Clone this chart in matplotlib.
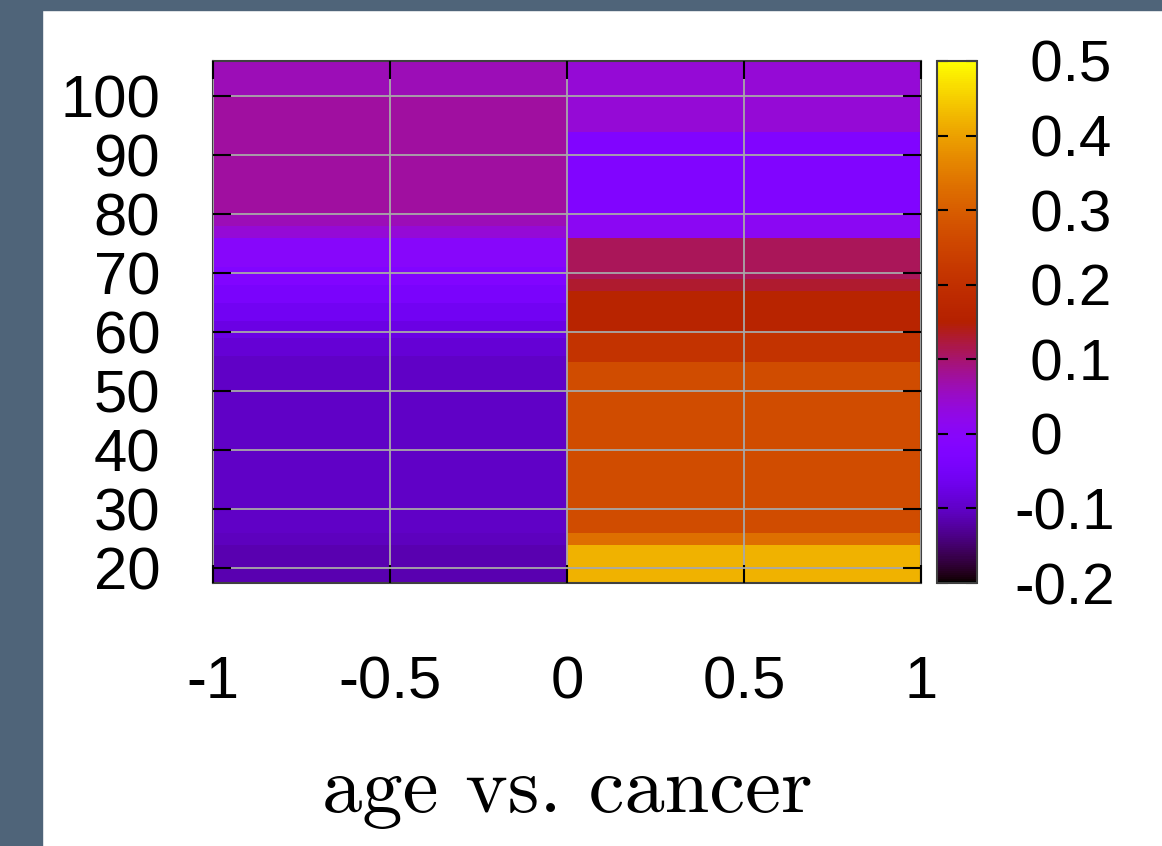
import numpy as np
import matplotlib.pyplot as plt
from matplotlib.patches import Rectangle

plt.rcParams['axes.unicode_minus'] = False

# age bands (edges) and the correlation read for each band
AGE_EDGES = [17.5, 24, 26, 55, 56, 59, 60, 62, 65, 67, 68, 69, 71, 76, 78, 80, 94, 100, 106]
CORR_LEFT = [-0.115, -0.105, -0.1, -0.1, -0.09, -0.075, -0.075, -0.06, -0.04, -0.04,
             -0.02, -0.02, -0.005, 0.04, 0.06, 0.075, 0.075, 0.06]
CORR_RIGHT = [0.42, 0.33, 0.265, 0.21, 0.21, 0.21, 0.165, 0.165, 0.165, 0.13,
              0.13, 0.11, 0.11, 0.01, 0.01, -0.02, 0.04, 0.04]
X_EDGES = [-1, 0, 1]

X_TICKS = [-1, -0.5, 0, 0.5, 1]
X_LABELS = ["-1", "-0.5", "0", "0.5", "1"]
Y_TICKS = [20, 30, 40, 50, 60, 70, 80, 90, 100]
CB_TICKS = [-0.2, -0.1, 0, 0.1, 0.2, 0.3, 0.4, 0.5]
CB_LABELS = ["-0.2", "-0.1", " 0", " 0.1", " 0.2", " 0.3", " 0.4", " 0.5"]

W, H = 1162, 846
fig = plt.figure(figsize=(W / 100, H / 100), dpi=100)
fig.patch.set_facecolor("white")

ax = fig.add_axes([213 / W, 1 - 583 / H, (921 - 213) / W, (583 - 61) / H])
cax = fig.add_axes([937 / W, 1 - 583 / H, (977 - 937) / W, (583 - 61) / H])

Z = np.column_stack([CORR_LEFT, CORR_RIGHT])
mesh = ax.pcolormesh(X_EDGES, AGE_EDGES, Z, cmap="gnuplot", vmin=-0.2, vmax=0.5,
                     shading="flat")

ax.set_xlim(-1, 1)
ax.set_ylim(17.5, 106)
ax.set_xticks(X_TICKS)
ax.set_xticklabels(X_LABELS)
ax.set_yticks(Y_TICKS)
ax.grid(True, color="#a8a8a8", lw=1.3)
ax.set_axisbelow(False)
ax.tick_params(direction="in", length=13, width=1.5, color="black",
               top=True, right=True, labelsize=43)
ax.tick_params(axis="x", pad=52)
ax.tick_params(axis="y", pad=38)
for lab in ax.get_xticklabels() + ax.get_yticklabels():
    lab.set_fontfamily("Liberation Sans")
for s in ax.spines.values():
    s.set_color("#404040")
    s.set_linewidth(1.5)

ax.set_xlabel("age vs. cancer", fontname="cmr10", fontsize=58, labelpad=34)

cb = fig.colorbar(mesh, cax=cax)
cb.set_ticks(CB_TICKS)
cb.set_ticklabels(CB_LABELS)
cax.yaxis.set_ticks_position("both")
cax.tick_params(direction="in", length=8, width=1.5, color="black",
                labelsize=42, pad=27, labelleft=False, labelright=True)
for lab in cax.get_yticklabels():
    lab.set_fontfamily("Liberation Sans")
cb.outline.set_edgecolor("#404040")
cb.outline.set_linewidth(1.5)

# dark frame of the screenshot
frame = "#4f6479"
fig.patches.append(Rectangle((0, 0), 42 / W, 1, transform=fig.transFigure,
                             color=frame, zorder=10))
fig.patches.append(Rectangle((0, 1 - 10 / H), 1, 10 / H, transform=fig.transFigure,
                             color=frame, zorder=10))

fig.savefig("out.png", dpi=100)
